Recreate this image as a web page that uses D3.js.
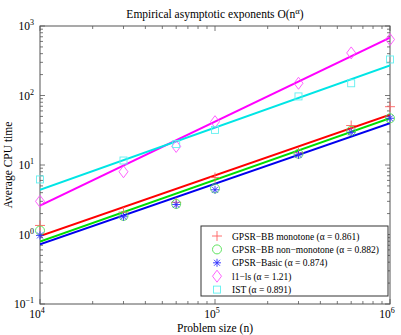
<!DOCTYPE html>
<html><head><meta charset="utf-8">
<script src="https://cdn.jsdelivr.net/npm/d3@7"></script>
<style>body{margin:0;background:#fff}svg{display:block}text{font-family:"Liberation Serif","Times New Roman",serif;fill:#000}</style>
</head><body><svg id="c" width="401" height="335"></svg>
<script>
const sizes = [1e4, 3e4, 6e4, 1e5, 3e5, 6e5, 1e6];
const seriesNames = ["GPSR\u2212BB monotone (\u03b1 = 0.861)", "GPSR\u2212BB non\u2212monotone (\u03b1 = 0.882)", "GPSR\u2212Basic (\u03b1 = 0.874)", "l1\u2212ls (\u03b1 = 1.21)", "IST (\u03b1 = 0.891)"];
const gpsrMono = [1.35, 2.1, 2.9, 6.6, 15, 37, 69];
const gpsrNonMono = [1.14, 1.85, 2.75, 4.6, 14.5, 31, 47];
const gpsrBasic = [0.97, 1.8, 2.7, 4.4, 14, 29.5, 47];
const l1ls = [3.0, 8.0, 18.5, 42, 150, 410, 640];
const ist = [6.2, 11.6, 20, 32, 97, 150, 330];
const fitStart = [0.95, 0.79, 0.72, 2.6, 4.4];   // fitted line value at n = 1e4
const fitEnd = [53, 47, 40, 680, 270];          // fitted line value at n = 1e6
const colors = ["#ff0000", "#00dd00", "#0000ee", "#ff00ff", "#00e5e5"];
const markerColors = ["#ff6060", "#50e050", "#3030ff", "#ff50ff", "#60f0f0"];
const markers = ["plus", "circle", "star", "diamond", "square"];
const xTicks = [1e4, 1e5, 1e6];
const xTickExp = ["4", "5", "6"];
const yTicks = [1e-1, 1e0, 1e1, 1e2, 1e3];
const yTickExp = ["\u22121", "0", "1", "2", "3"];

const allSeries = [gpsrMono, gpsrNonMono, gpsrBasic, l1ls, ist];
const svg = d3.select("#c");
const L = 40, R = 390, T = 26, B = 304;
const x = d3.scaleLog().domain([1e4, 1e6]).range([L, R]);
const y = d3.scaleLog().domain([1e-1, 1e3]).range([B, T]);

svg.append("rect").attr("x", L).attr("y", T).attr("width", R - L).attr("height", B - T)
  .attr("fill", "none").attr("stroke", "#555").attr("stroke-width", 1);

const xMinor = [], yMinor = [];
for (let d = 4; d < 6; d++) for (let k = 2; k <= 9; k++) xMinor.push(k * Math.pow(10, d));
for (let d = -1; d < 3; d++) for (let k = 2; k <= 9; k++) yMinor.push(k * Math.pow(10, d));
const tk = svg.append("g").attr("stroke", "#555").attr("stroke-width", 0.8);
function vt(v, len) {
  tk.append("line").attr("x1", x(v)).attr("x2", x(v)).attr("y1", B).attr("y2", B - len);
  tk.append("line").attr("x1", x(v)).attr("x2", x(v)).attr("y1", T).attr("y2", T + len);
}
function ht(v, len) {
  tk.append("line").attr("y1", y(v)).attr("y2", y(v)).attr("x1", L).attr("x2", L + len);
  tk.append("line").attr("y1", y(v)).attr("y2", y(v)).attr("x1", R).attr("x2", R - len);
}
xTicks.forEach(v => vt(v, 5)); xMinor.forEach(v => vt(v, 3));
yTicks.forEach(v => ht(v, 5)); yMinor.forEach(v => ht(v, 3));

xTicks.forEach((v, i) => {
  const t = svg.append("text").attr("x", x(v) - 3).attr("y", 318).attr("text-anchor", "middle").attr("font-size", 11.5);
  t.append("tspan").text("10");
  t.append("tspan").attr("dy", -5).attr("font-size", 8).text(xTickExp[i]);
});
yTicks.forEach((v, i) => {
  const t = svg.append("text").attr("x", 34).attr("y", y(v) + 4).attr("text-anchor", "end").attr("font-size", 11.5);
  t.append("tspan").text("10");
  t.append("tspan").attr("dy", -5).attr("font-size", 8).text(yTickExp[i]);
});

const tt = svg.append("text").attr("x", 215).attr("y", 18).attr("text-anchor", "middle").attr("font-size", 11.5);
tt.append("tspan").text("Empirical asymptotic exponents O(n");
tt.append("tspan").attr("dy", -4).attr("font-size", 8.5).text("\u03b1");
tt.append("tspan").attr("dy", 4).text(")");
svg.append("text").attr("x", 215).attr("y", 332).attr("text-anchor", "middle").attr("font-size", 11.5).text("Problem size (n)");
svg.append("text").attr("transform", "translate(12,165) rotate(-90)").attr("text-anchor", "middle").attr("font-size", 11.5).text("Average CPU time");

svg.append("clipPath").attr("id", "cl").append("rect").attr("x", L).attr("y", T).attr("width", R - L).attr("height", B - T);

const line = d3.line().x(d => x(d[0])).y(d => y(d[1]));
const gl = svg.append("g").attr("clip-path", "url(#cl)");
fitStart.forEach((s, i) => {
  gl.append("path").attr("d", line([[1e4, s], [1e6, fitEnd[i]]]))
    .attr("stroke", colors[i]).attr("stroke-width", 2).attr("fill", "none");
});

function drawMarker(g, type, cx, cy, col) {
  const s = g.append("g").attr("transform", `translate(${cx},${cy})`).attr("stroke", col).attr("stroke-width", 0.9).attr("fill", "none");
  if (type === "plus") { s.append("path").attr("d", "M-5,0H5M0,-5V5"); }
  else if (type === "circle") { s.append("circle").attr("r", 4.5); }
  else if (type === "star") { s.append("path").attr("d", "M-4,0H4M0,-4V4M-3,-3L3,3M-3,3L3,-3"); }
  else if (type === "diamond") { s.append("path").attr("d", "M0,-6L4.5,0L0,6L-4.5,0Z"); }
  else if (type === "square") { s.append("rect").attr("x", -3.5).attr("y", -3.5).attr("width", 7).attr("height", 7); }
}
const gm = svg.append("g");
allSeries.forEach((vals, i) => {
  vals.forEach((v, j) => drawMarker(gm, markers[i], x(sizes[j]), y(v), markerColors[i]));
});

const lg = svg.append("g");
lg.append("rect").attr("x", 201).attr("y", 226).attr("width", 187).attr("height", 70)
  .attr("fill", "#fff").attr("stroke", "#333").attr("stroke-width", 1);
seriesNames.forEach((n, i) => {
  const yy = 236 + i * 13.4;
  drawMarker(lg, markers[i], 217, yy, markerColors[i]);
  lg.append("text").attr("x", 232).attr("y", yy + 3.5).attr("font-size", 9.5).text(n);
});
</script></body></html>
